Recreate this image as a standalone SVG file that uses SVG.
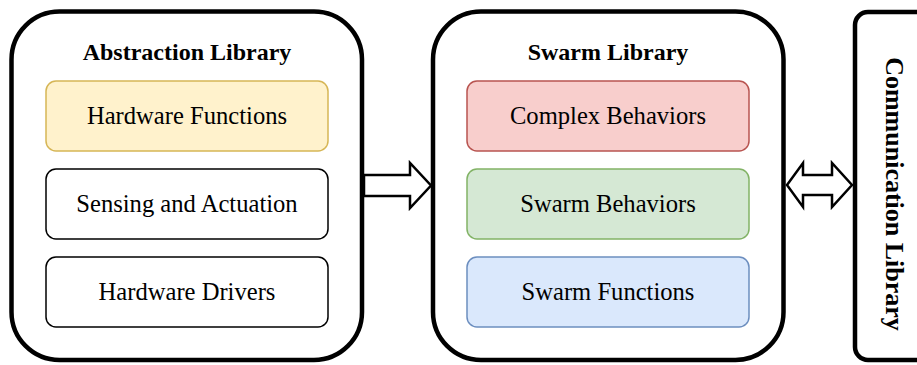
<svg xmlns="http://www.w3.org/2000/svg" width="917" height="365" viewBox="0 0 917 365">
<style>
.outer{fill:#ffffff;stroke:#000000;stroke-width:4.5}
.inner{stroke-width:1.5}
.title{font-family:"Liberation Serif","Times New Roman",serif;font-weight:bold;font-size:24px;fill:#000;text-anchor:middle}
.vtitle{font-family:"Liberation Serif","Times New Roman",serif;font-weight:bold;font-size:26px;fill:#000;text-anchor:middle}
.label{font-family:"Liberation Serif","Times New Roman",serif;font-size:24.6px;fill:#000;text-anchor:middle}
.arrow{fill:#ffffff;stroke:#000000;stroke-width:2.5;stroke-linejoin:miter}
</style>
<rect width="917" height="365" fill="#ffffff"/>
<g id="abstraction-library">
  <rect class="outer" x="11.5" y="11.5" width="350.5" height="348.5" rx="48" ry="48"/>
  <text class="title" x="187" y="60">Abstraction Library</text>
</g>
<g id="hardware-functions">
  <rect class="inner" x="46" y="81" width="282" height="70" rx="10" fill="#fff2cc" stroke="#d6b656"/>
  <text class="label" x="187" y="124">Hardware Functions</text>
</g>
<g id="sensing-actuation">
  <rect class="inner" x="46" y="169" width="282" height="70" rx="10" fill="#ffffff" stroke="#000000"/>
  <text class="label" x="187" y="212">Sensing and Actuation</text>
</g>
<g id="hardware-drivers">
  <rect class="inner" x="46" y="257" width="282" height="70" rx="10" fill="#ffffff" stroke="#000000"/>
  <text class="label" x="187" y="300">Hardware Drivers</text>
</g>
<g id="swarm-library">
  <rect class="outer" x="433" y="11.5" width="350.5" height="348.5" rx="48" ry="48"/>
  <text class="title" x="608" y="60">Swarm Library</text>
</g>
<g id="complex-behaviors">
  <rect class="inner" x="467" y="81" width="282" height="70" rx="10" fill="#f8cecc" stroke="#b85450"/>
  <text class="label" x="608" y="124">Complex Behaviors</text>
</g>
<g id="swarm-behaviors">
  <rect class="inner" x="467" y="169" width="282" height="70" rx="10" fill="#d5e8d4" stroke="#82b366"/>
  <text class="label" x="608" y="212">Swarm Behaviors</text>
</g>
<g id="swarm-functions">
  <rect class="inner" x="467" y="257" width="282" height="70" rx="10" fill="#dae8fc" stroke="#6c8ebf"/>
  <text class="label" x="608" y="300">Swarm Functions</text>
</g>
<g id="communication-library">
  <rect class="outer" x="855" y="12" width="90" height="348" rx="13" ry="13"/>
  <text class="vtitle" transform="translate(886,194) rotate(90)" x="0" y="0">Communication Library</text>
</g>
<g id="connectors">
  <polygon class="arrow" points="364,175 410,175 410,163 431,185.5 410,208 410,196 364,196"/>
  <polygon class="arrow" points="787,185 803,163 803,175 832,175 832,163 852,185 832,207 832,195 803,195 803,207"/>
</g>
</svg>
